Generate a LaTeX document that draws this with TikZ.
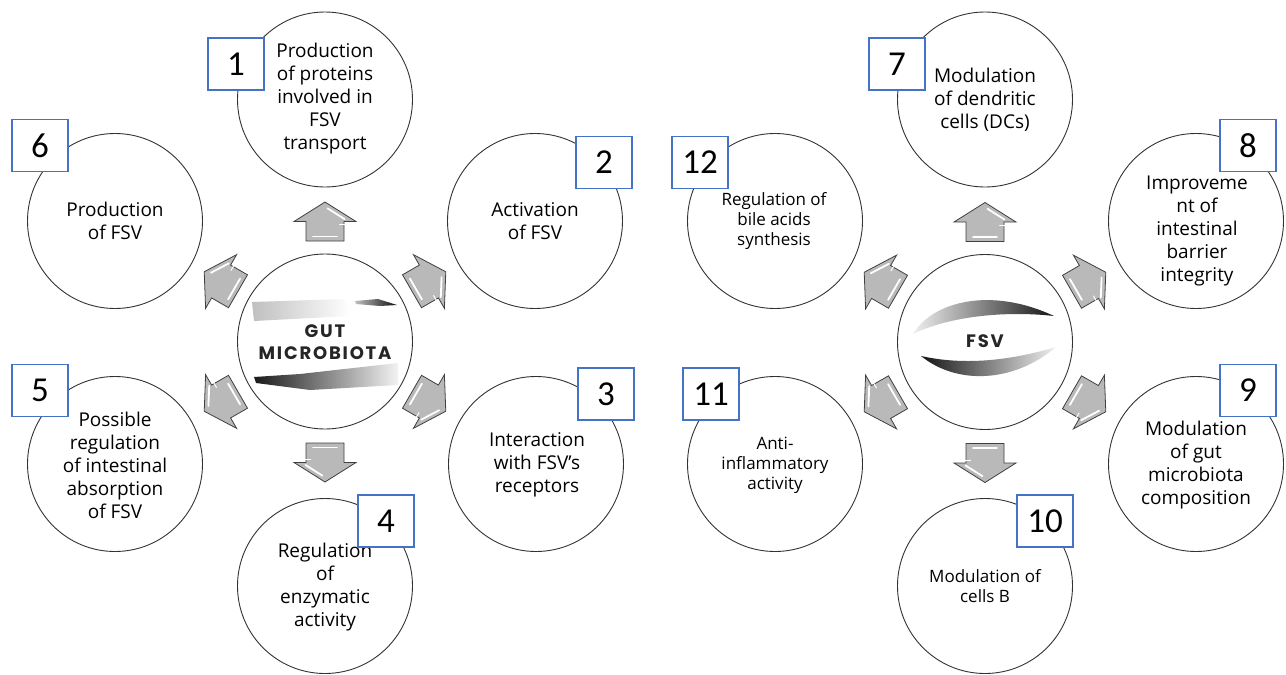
\documentclass[tikz,border=0pt]{standalone}
\usepackage{fontspec}
\setmainfont{Open Sans}
\newfontfamily\numfont{Carlito}
\newfontfamily\titlefont{Poppins}[LetterSpace=10]
\definecolor{boxblue}{HTML}{4472C4}
\definecolor{arrowgray}{HTML}{B9B9B9}
\definecolor{linegray}{HTML}{333333}
\tikzset{
  circ/.style={circle, draw=linegray, line width=0.9pt, minimum size=175pt, inner sep=0pt, fill=white},
  bigtxt/.style={align=center, font=\fontsize{19}{23}\selectfont, text=black, inner sep=0pt},
  smalltxt/.style={align=center, font=\fontsize{17}{20}\selectfont, text=black, inner sep=0pt},
  numbox/.style={draw=boxblue, line width=1.3pt, fill=white, minimum width=56pt, minimum height=52pt, inner sep=0pt, font=\numfont\fontsize{35}{35}\selectfont},
  titletxt/.style={align=center, font=\titlefont\bfseries\fontsize{18}{22}\selectfont, text=black!85, inner sep=0pt},
  blockarrow/.pic={
    \draw[fill=arrowgray, draw=black!75, line width=0.8pt, line join=miter]
      (-19.5,-19) -- (0,-19) -- (0,-31) -- (19.5,0) -- (0,31) -- (0,19) -- (-19.5,19) -- cycle;
    \draw[white, line width=1.8pt, line cap=round] (13.2,2.5) -- (2.4,19.6);
    \draw[white, line width=1.8pt, line cap=round] (-15,-12) -- (-15,12);
    \draw[white, line width=1pt, line cap=round] (-3,14.5) -- (-3,22);
  }
}
\begin{document}
\begin{tikzpicture}[x=1pt,y=-1pt]
\useasboundingbox (0,0) rectangle (1286,675);

% ===== LEFT GROUP =====
\node[circ] (L) at (325,341.5) {};
\node[circ] (c1) at (325,99.5) {};
\node[circ] (c2) at (535,221) {};
\node[circ] (c3) at (536,464) {};
\node[circ] (c4) at (325,586) {};
\node[circ] (c5) at (115,464) {};
\node[circ] (c6) at (115,221) {};

% brush strokes (gut microbiota)
\shade[left color=black!25, right color=white] (252,302) -- (345,299) -- (350,316) -- (254,321) -- cycle;
\shade[left color=black!25, right color=black!95] (355,301) -- (378,299) -- (397,305) -- (380,306) -- (356,304) -- cycle;
\shade[left color=black!90, right color=black!5] (254,377) -- (300,374) -- (398,363) -- (398,385) -- (310,390) -- (256,383) -- cycle;
\node[titletxt] (Lt) at (325,342.5) {GUT\\MICROBIOTA};

% arrows
\path (325,221.5) pic[rotate=90] {blockarrow};
\path (428.9,281.5) pic[rotate=30] {blockarrow};
\path (428.9,401.5) pic[rotate=-30] {blockarrow};
\path (325,462.5) pic[rotate=270] {blockarrow};
\path (221.1,401.5) pic[rotate=210] {blockarrow};
\path (221.1,281.5) pic[rotate=150] {blockarrow};

% texts
\node[bigtxt] (t1) at (325,99) {Production\\of proteins\\involved in\\FSV\\transport};
\node[bigtxt] (t6) at (115,221) {Production\\of FSV};
\node[bigtxt] (t2) at (535,221) {Activation\\of FSV};
\node[bigtxt] (t3) at (537,465) {Interaction\\with FSV’s\\receptors};
\node[bigtxt] (t5) at (115,465) {Possible\\regulation\\of intestinal\\absorption\\of FSV};
\node[bigtxt] (t4) at (325,587) {Regulation\\of\\enzymatic\\activity};

% number boxes
\node[numbox] (n1) at (236,64) {1};
\node[numbox] (n6) at (40,145.5) {6};
\node[numbox] (n2) at (604,162.5) {2};
\node[numbox] (n3) at (606,394) {3};
\node[numbox] (n5) at (40,390.5) {5};
\node[numbox] (n4) at (386,521) {4};

% ===== RIGHT GROUP =====
\node[circ] (R) at (985,342) {};
\node[circ] (c7) at (985,99.5) {};
\node[circ] (c8) at (1196,221) {};
\node[circ] (c9) at (1196,464) {};
\node[circ] (c10) at (985,586) {};
\node[circ] (c11) at (775,464) {};
\node[circ] (c12) at (775,221) {};

% brush strokes (FSV)
\shade[left color=black!6, right color=black!92]
  (913,334) .. controls (932,302) and (990,286) .. (1054,316)
  .. controls (1000,310) and (945,318) .. (913,334) -- cycle;
\shade[left color=black!92, right color=black!6]
  (921,356) .. controls (958,386) and (1015,382) .. (1056,347)
  .. controls (1012,360) and (966,366) .. (921,356) -- cycle;
\node[titletxt] (Rt) at (985,341) {FSV};

% arrows
\path (985,222) pic[rotate=90] {blockarrow};
\path (1088.9,282) pic[rotate=30] {blockarrow};
\path (1088.9,402) pic[rotate=-30] {blockarrow};
\path (985,463) pic[rotate=270] {blockarrow};
\path (881.1,402) pic[rotate=210] {blockarrow};
\path (881.1,282) pic[rotate=150] {blockarrow};

% texts
\node[bigtxt] (t7) at (985,100) {Modulation\\of dendritic\\cells (DCs)};
\node[smalltxt] (t12) at (774,221) {Regulation of\\bile acids\\synthesis};
\node[bigtxt] (t8) at (1197,231) {Improveme\\nt of\\intestinal\\barrier\\integrity};
\node[smalltxt] (t11) at (775,465) {Anti-\\inflammatory\\activity};
\node[bigtxt] (t9) at (1196,465) {Modulation\\of gut\\microbiota\\composition};
\node[smalltxt] (t10) at (985,586) {Modulation of\\cells B};

% number boxes
\node[numbox] (n7) at (897,64) {7};
\node[numbox] (n12) at (700,162.5) {12};
\node[numbox] (n8) at (1248,145.5) {8};
\node[numbox] (n11) at (711,394) {11};
\node[numbox] (n9) at (1248,390.5) {9};
\node[numbox] (n10) at (1045,521) {10};
\end{tikzpicture}
\end{document}
